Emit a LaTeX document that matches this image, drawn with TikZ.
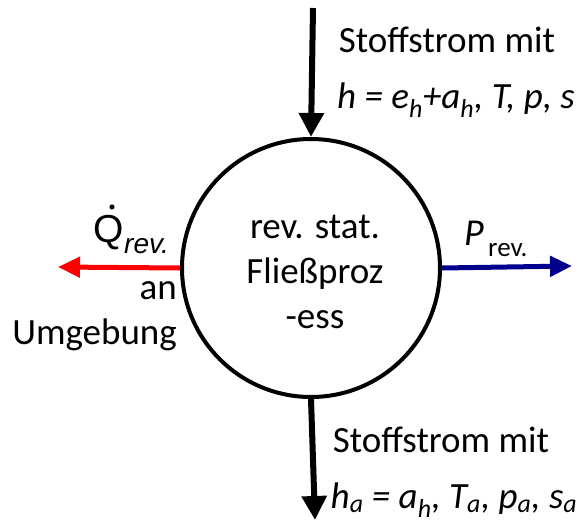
\documentclass[tikz,border=0pt]{standalone}
\usepackage{fontspec}
\setmainfont{Carlito}
\newfontfamily\arialf{Liberation Sans}
\usetikzlibrary{arrows.meta,calc}
\begin{document}
\begin{tikzpicture}[x=1pt,y=-1pt,
  txt/.style={font=\fontsize{37}{45}\selectfont, inner sep=0pt},
  blk/.style={line width=6pt, -{Triangle[width=24pt,length=24pt]}},
  redarr/.style={draw=red, line width=5pt, -{Triangle[width=20pt,length=22pt]}},
  bluearr/.style={draw={rgb,255:red,0;green,0;blue,140}, line width=5pt, -{Triangle[width=20pt,length=22pt]}}]
\useasboundingbox (0,0) rectangle (579,525);
\node[circle, draw, line width=4pt, minimum size=258pt, inner sep=0pt] (c) at (311,268) {};
\node[txt, align=center] (ct) at (315,272) {rev. stat.\\Fließproz\\-ess};
\coordinate (tin) at (313,8);
\coordinate (bout) at (315,520);
\coordinate (lout) at (58,267);
\coordinate (rout) at (572,266);
\draw[blk] (tin) -- (c.north);
\draw[blk] (c.south) -- (bout);
\draw[redarr] (c.west) -- (lout);
\draw[bluearr] (c.east) -- (rout);
\node[txt] (s1) at (447,40) {Stoffstrom mit};
\node[txt] (h1) at (456,100) {\itshape h = e\textsubscript{h}+a\textsubscript{h}, T, p, s};
\node[txt] (s2) at (441,440) {Stoffstrom mit};
\node[txt] (h2) at (454,500) {\itshape h\textsubscript{a} = a\textsubscript{h}, T\textsubscript{a}, p\textsubscript{a}, s\textsubscript{a}};
\node[inner sep=0pt, anchor=base west, font=\fontsize{39}{44}\selectfont\arialf] (q) at (93,242) {Q};
\fill ($(q.base west)+(19,-35)$) circle (2.6pt);
\node[inner sep=0pt, anchor=base west, font=\fontsize{28}{30}\selectfont\arialf\itshape] (qs) at (124,253) {rev.};
\node[txt, align=right, anchor=north east] (an) at (177,281) {an\\Umgebung};
\node[inner sep=0pt, anchor=base west, font=\fontsize{38}{40}\selectfont\itshape] (p) at (464,245) {P};
\node[inner sep=0pt, anchor=base west, font=\fontsize{27}{30}\selectfont] (ps) at (488,256) {rev.};
\end{tikzpicture}
\end{document}
